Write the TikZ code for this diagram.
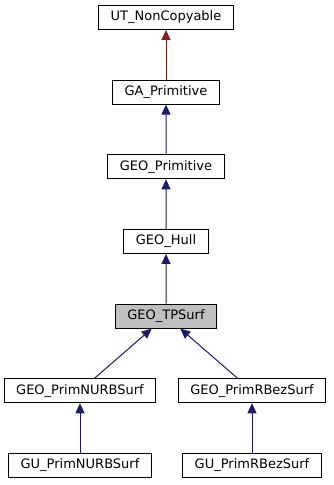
\documentclass[tikz,border=0pt]{standalone}
\usepackage{fontspec}
\setmainfont{DejaVu Sans}
\usetikzlibrary{arrows.meta}
\definecolor{inheritblue}{HTML}{191970}
\definecolor{inheritred}{HTML}{8B1A1A}
\begin{document}
\begin{tikzpicture}[
  x=1pt, y=1pt,
  level distance=74.67pt,
  level 5/.style={sibling distance=172pt},
  edge from parent/.style={draw=inheritblue, line width=1pt, {Triangle[length=10pt,width=9pt]}-},
  every node/.style={rectangle, draw=black, line width=0.9pt, minimum height=24pt, inner xsep=12pt, font=\fontsize{13}{15}\selectfont}
]
\useasboundingbox (0,0) rectangle (333,-485);
\node (noncopyable) at (166,-17.5) {UT\_NonCopyable}
  child { node (gaprim) {GA\_Primitive}
    child { node (geoprim) {GEO\_Primitive}
      child { node (geohull) {GEO\_Hull}
        child { node[fill=gray!50] (tpsurf) {GEO\_TPSurf}
          child { node (primnurb) {GEO\_PrimNURBSurf}
            child { node (gunurb) {GU\_PrimNURBSurf} }
          }
          child { node (primrbez) {GEO\_PrimRBezSurf}
            child { node (gurbez) {GU\_PrimRBezSurf} }
          }
        }
      }
    }
    edge from parent[draw=inheritred]
  };
\end{tikzpicture}
\end{document}
